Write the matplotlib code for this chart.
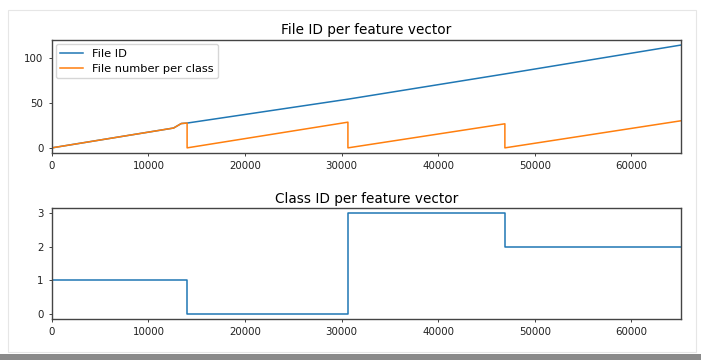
import matplotlib as mpl
mpl.use('Agg')
import matplotlib.pyplot as plt
from matplotlib.patches import Rectangle
from matplotlib.ticker import MultipleLocator

# feature vector index where each class block starts / ends
class_bounds = [0, 14000, 30650, 46900, 65100]
class_ids = [1, 0, 3, 2]

# running file id over all feature vectors
file_id_x = [0, 12600, 13400, 14000, 30650, 46900, 65100]
file_id_y = [0, 22, 27, 27.5, 54, 82, 114]

# file number restarted inside every class block
file_num_x = [0, 12600, 13400, 14000, 14000, 30650, 30650, 46900, 46900, 65100]
file_num_y = [0, 22, 27, 27.5, 0, 28.5, 0, 26.7, 0, 30]

n_vectors = class_bounds[-1]
xticks = [0, 10000, 20000, 30000, 40000, 50000, 60000]

fig = plt.figure(figsize=(7.01, 3.6), dpi=100)
fig.patch.set_facecolor('white')

ax1 = fig.add_axes([0.074, 0.575, 0.897, 0.314])
ax1.plot(file_id_x, file_id_y, color='#1f77b4', lw=1.1, label='File ID')
ax1.plot(file_num_x, file_num_y, color='#ff7f0e', lw=1.1, label='File number per class')
ax1.set_xlim(0, n_vectors)
ax1.set_ylim(-5.7, 119.7)
ax1.yaxis.set_major_locator(MultipleLocator(50))
ax1.set_xticks(xticks)
ax1.set_title('File ID per feature vector', fontsize=9.8, pad=4)
ax1.legend(loc='upper left', fontsize=8.2, frameon=True, borderpad=0.4,
           handlelength=2.0, labelspacing=0.45, borderaxespad=0.35,
           fancybox=True, edgecolor='#cccccc')

ax2 = fig.add_axes([0.074, 0.114, 0.897, 0.308])
ax2.step(class_bounds, class_ids + [class_ids[-1]], where='post', color='#1f77b4', lw=1.1)
ax2.set_xlim(0, n_vectors)
ax2.set_ylim(-0.15, 3.15)
ax2.set_yticks([0, 1, 2, 3])
ax2.set_xticks(xticks)
ax2.set_title('Class ID per feature vector', fontsize=9.8, pad=4)

for ax in (ax1, ax2):
    ax.tick_params(labelsize=7.4, length=2.5, width=0.6, colors='#222222')
    for sp in ax.spines.values():
        sp.set_color('#444444')
        sp.set_linewidth(1.0)

# light frame and bottom shadow
fig.add_artist(Rectangle((8 / 701, 8 / 360), 688 / 701, 342 / 360, transform=fig.transFigure,
                         fill=False, edgecolor='#e6e6e6', lw=0.8))
fig.add_artist(Rectangle((0, 0), 1, 6 / 360, transform=fig.transFigure,
                         facecolor='#8a8a8a', edgecolor='none'))

fig.savefig('out.png', dpi=100)
